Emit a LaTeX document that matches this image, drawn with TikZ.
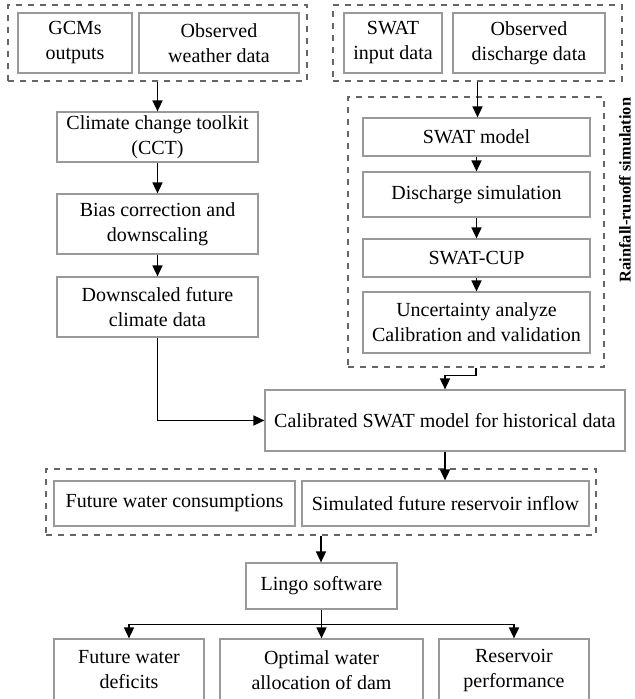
\documentclass[tikz,border=0pt]{standalone}
\usepackage{fontspec}
\setmainfont{Liberation Serif}
\usetikzlibrary{arrows.meta,positioning,calc}

\begin{document}
\begin{tikzpicture}[x=0.5pt, y=-0.5pt,
  box/.style={draw=black!40, line width=0.6pt, align=center, inner sep=0pt, font=\fontsize{10}{12.5}\selectfont},
  grp/.style={draw=black!60, dashed, line width=0.6pt, inner sep=0pt},
  arr/.style={-{Triangle[length=5.5pt,width=5pt]}, line width=0.8pt}]
\useasboundingbox (0,0) rectangle (634,699);

% Climate data inputs
\node[grp, minimum width=149.5pt, minimum height=38pt] (inA) at (157.5,43) {};
\node[box, minimum width=57pt, minimum height=30pt] (gcm) at (75,43) {GCMs\\outputs};
\node[box, minimum width=80pt, minimum height=30pt] (obsw) at (219,43) {Observed\\weather data};

% Downscaling chain
\node[box, minimum width=100.5pt, minimum height=25pt] (cct) at (157.5,137) {Climate change toolkit\\(CCT)};
\node[box, minimum width=100.5pt, minimum height=30pt] (bias) at (157.5,224) {Bias correction and\\downscaling};
\node[box, minimum width=100.5pt, minimum height=30pt] (down) at (157.5,307) {Downscaled future\\climate data};

% SWAT inputs
\node[grp, minimum width=144.5pt, minimum height=38pt] (inB) at (477.5,43) {};
\node[box, minimum width=49pt, minimum height=30pt] (swatin) at (393,43) {SWAT\\input data};
\node[box, minimum width=76pt, minimum height=30pt] (obsd) at (529,43) {Observed\\discharge data};

% Rainfall-runoff simulation
\node[grp, minimum width=128pt, minimum height=135pt] (rain) at (476,232) {};
\node[box, minimum width=113.5pt, minimum height=19pt] (swat) at (476.5,137) {SWAT model};
\node[box, minimum width=113.5pt, minimum height=22.5pt] (dis) at (476.5,194.5) {Discharge simulation};
\node[box, minimum width=113.5pt, minimum height=19pt] (cup) at (476.5,258) {SWAT-CUP};
\node[box, minimum width=113.5pt, minimum height=30.5pt] (unc) at (476.5,322.5) {Uncertainty analyze\\Calibration and validation};
\node[rotate=90, inner sep=0pt, font=\fontsize{8.2}{10}\selectfont\bfseries] (rainlbl) at (625,190) {Rainfall-runoff simulation};

\node[box, minimum width=180pt, minimum height=30.5pt] (calib) at (445,420.5) {Calibrated SWAT model for historical data};

% Future scenario
\node[grp, minimum width=275pt, minimum height=33pt] (inC) at (321,502) {};
\node[box, minimum width=120.5pt, minimum height=22.5pt] (fwc) at (174.5,503.5) {Future water consumptions};
\node[box, minimum width=143.5pt, minimum height=22.5pt] (sim) at (445.5,503.5) {Simulated future reservoir inflow};

\node[box, minimum width=75.5pt, minimum height=23pt] (lingo) at (321.5,586) {Lingo software};

% Outputs
\node[box, minimum width=75pt, minimum height=31pt] (fwd) at (129,670) {Future water\\deficits};
\node[box, minimum width=101.5pt, minimum height=31pt] (opt) at (321.5,670) {Optimal water\\allocation of dam};
\node[box, minimum width=75pt, minimum height=31pt] (res) at (514,670) {Reservoir\\performance};

% Arrows
\draw[arr] (inA.south) -- (cct.north);
\draw[arr] (cct) -- (bias);
\draw[arr] (bias) -- (down);
\draw[arr] (down.south) |- (calib.west);
\draw[arr] (inB.south) -- (inB.south |- swat.north);
\draw[arr] (swat) -- (dis);
\draw[arr] (dis) -- (cup);
\draw[arr] (cup) -- (unc);
\draw[arr] (rain.south) -- ++(0,8) -| (calib.north);
\draw[arr] (calib.south) -- (calib.south |- sim.north);
\draw[arr] (inC.south) -- (inC.south |- lingo.north);
\draw[line width=0.8pt] (lingo.south) -- ++(0,15) coordinate (split);
\draw[arr] (split) -| (fwd.north);
\draw[arr] (split) -- (split |- opt.north);
\draw[arr] (split) -| (res.north);

\end{tikzpicture}
\end{document}
